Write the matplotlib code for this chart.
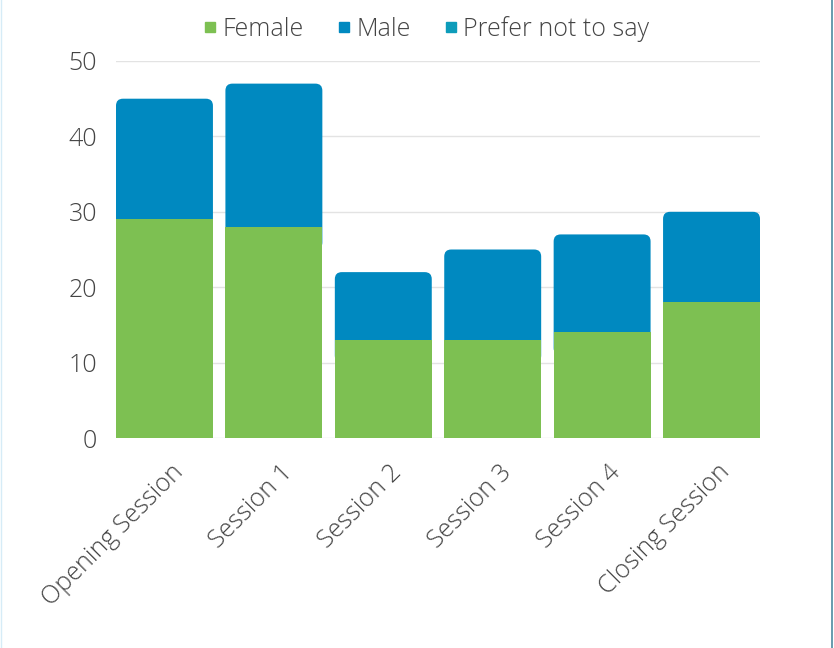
import matplotlib
matplotlib.use("Agg")
import matplotlib.pyplot as plt
from matplotlib.patches import FancyBboxPatch
from matplotlib.lines import Line2D
import matplotlib.transforms as mtransforms
import numpy as np

categories = ["Opening Session", "Session 1", "Session 2", "Session 3", "Session 4", "Closing Session"]
female = [29, 28, 13, 13, 14, 18]
male = [16, 19, 9, 12, 13, 12]
prefer_not = [0, 0, 0, 0, 0, 0]
series_names = ["Female", "Male", "Prefer not to say"]
colors = ["#7dc052", "#0089c0", "#0d9cba"]
yticks = [0, 10, 20, 30, 40, 50]

plt.rcParams['font.family'] = ['Open Sans', 'DejaVu Sans']
plt.rcParams['font.weight'] = 'light'

fig = plt.figure(figsize=(8.34, 6.48), dpi=100)
fig.patch.set_facecolor("#ffffff")
ax = fig.add_axes([116/834, 1-438/648, (760-116)/834, (438-61)/648])

x = np.arange(len(categories))
width = 0.886
ax.set_xlim(-width/2, len(categories)-1+width/2)
ax.set_ylim(0, 50)

ax.set_yticks(yticks)
ax.grid(axis='y', color='#e3e3e3', linewidth=1)
ax.set_axisbelow(True)
for s in ax.spines.values():
    s.set_visible(False)

b1 = ax.bar(x, female, width, color=colors[0], zorder=3, linewidth=0)
bottom2 = np.array(female)
b2 = ax.bar(x, male, width, bottom=bottom2, color=colors[1], zorder=2, linewidth=0)
bottom3 = bottom2 + np.array(male)
b3 = ax.bar(x, prefer_not, width, bottom=bottom3, color=colors[2], zorder=2, linewidth=0)

# replace top segments by rounded-top patches built from the bar geometry
p0 = ax.transData.transform((0, 0))
p1 = ax.transData.transform((1, 1))
px_x = p1[0]-p0[0]
px_y = p1[1]-p0[1]
r_px = 7
r_x = r_px / px_x
aspect = px_x / px_y
for rect in b2:
    x0, y0 = rect.get_x(), rect.get_y()
    w, h = rect.get_width(), rect.get_height()
    rect.set_visible(False)
    ext = 3.0  # extend downward, hidden under the green segment
    patch = FancyBboxPatch((x0, y0 - ext), w, h + ext,
                           boxstyle=f"round,pad=0,rounding_size={r_x}",
                           mutation_aspect=aspect,
                           facecolor=rect.get_facecolor(), edgecolor='none',
                           linewidth=0, zorder=2)
    ax.add_patch(patch)

ax.tick_params(axis='both', length=0, colors='#444444', labelsize=18)
ax.tick_params(axis='y', pad=13.5)
ax.set_xticks(x)
ax.set_xticklabels(categories, rotation=45, ha='right', va='top', rotation_mode='anchor')
offset = mtransforms.ScaledTranslation(6/100, -17/100, fig.dpi_scale_trans)
for lbl in ax.get_xticklabels():
    lbl.set_transform(lbl.get_transform() + offset)

handles = [Line2D([0], [0], marker='s', linestyle='none', markersize=7,
                  markerfacecolor=c, markeredgecolor=c) for c in colors]
fig.legend(handles, series_names, loc='center', bbox_to_anchor=(0.511, 0.955),
           ncol=3, frameon=False, fontsize=18, handletextpad=0.2,
           columnspacing=1.3, labelcolor='#444444', handlelength=0.6)

fig.add_artist(Line2D([831.5/834, 831.5/834], [0, 1], color='#4e8aa0', linewidth=1.2))
fig.add_artist(Line2D([0.5/834, 0.5/834], [0, 1], color='#d6ecf7', linewidth=1.0))

fig.savefig("out.png", dpi=100)
